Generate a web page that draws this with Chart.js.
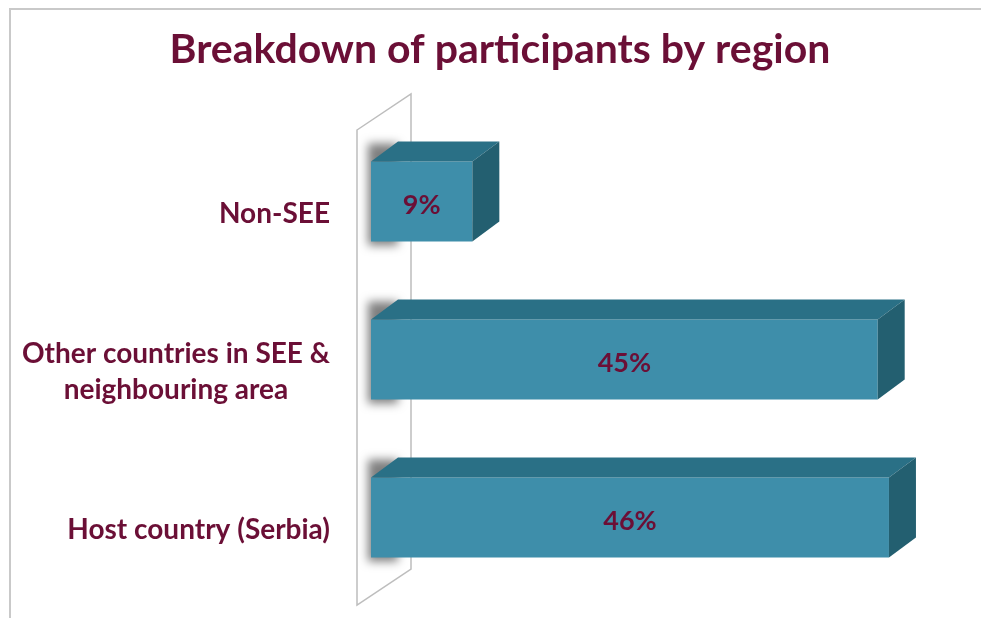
<!DOCTYPE html>
<html>
<head>
<meta charset="utf-8">
<script src="https://cdn.jsdelivr.net/npm/chart.js@4.4.0/dist/chart.umd.min.js"></script>
<style>
    html, body { margin: 0; padding: 0; background: #fff; }
</style>
</head>
<body>
<canvas id="chart" width="981" height="618"></canvas>
<script>
const regions = ['Non-SEE', ['Other countries in SEE &', 'neighbouring area'], 'Host country (Serbia)'];
const shares = [9, 45, 46];
const axisMax = 50;
const chartTitle = 'Breakdown of participants by region';

const maroon = '#6B0F36';
const front = '#3E8EAA';
const topFace = '#2A7086';
const sideFace = '#235F70';
const depth = { x: 27, y: -20 };

const bars3d = {
    id: 'bars3d',
    beforeDraw(chart) {
        const ctx = chart.ctx;
        ctx.save();
        ctx.strokeStyle = '#c9c9c9';
        ctx.lineWidth = 2;
        ctx.beginPath();
        ctx.moveTo(10, 618);
        ctx.lineTo(10, 9);
        ctx.lineTo(981, 9);
        ctx.stroke();

        // title, centred on the whole picture
        ctx.fillStyle = maroon;
        ctx.font = 'bold 41px Lato';
        ctx.textAlign = 'center';
        ctx.textBaseline = 'middle';
        ctx.fillText(chartTitle, 500, 50);
        ctx.restore();
    },
    beforeDatasetsDraw(chart) {
        const ctx = chart.ctx;
        const a = chart.chartArea;
        const fx = a.left - 14, ft = a.top + 7.5, fb = a.bottom + 8.5;
        const wall = () => {
            ctx.beginPath();
            ctx.moveTo(fx, ft);
            ctx.lineTo(fx + 54, ft - 36);
            ctx.lineTo(fx + 54, fb - 36);
            ctx.lineTo(fx, fb);
            ctx.closePath();
        };
        ctx.save();
        wall();
        ctx.fillStyle = '#fff';
        ctx.fill();
        // soft shadow of each bar on the wall
        ctx.save();
        wall();
        ctx.clip();
        ctx.shadowColor = 'rgba(0,0,0,0.5)';
        ctx.shadowBlur = 10;
        ctx.shadowOffsetX = 2000;
        ctx.fillStyle = '#000';
        chart.getDatasetMeta(0).data.forEach(bar => {
            const p = bar.getProps(['y', 'base', 'height'], true);
            ctx.fillRect(p.base - 2000 - 3, p.y - p.height / 2 - 18, 30, p.height + 22);
        });
        ctx.restore();
        wall();
        ctx.strokeStyle = '#bdbdbd';
        ctx.lineWidth = 1.5;
        ctx.stroke();
        ctx.restore();
    },
    afterDatasetsDraw(chart) {
        const ctx = chart.ctx;
        const yScale = chart.scales.y;
        ctx.save();
        chart.getDatasetMeta(0).data.forEach((bar, i) => {
            const p = bar.getProps(['x', 'y', 'base', 'height'], true);
            const t = p.y - p.height / 2, b = p.y + p.height / 2;
            ctx.fillStyle = topFace;
            ctx.beginPath();
            ctx.moveTo(p.base, t);
            ctx.lineTo(p.x, t);
            ctx.lineTo(p.x + depth.x, t + depth.y);
            ctx.lineTo(p.base + depth.x, t + depth.y);
            ctx.closePath();
            ctx.fill();
            ctx.fillStyle = sideFace;
            ctx.beginPath();
            ctx.moveTo(p.x, t);
            ctx.lineTo(p.x + depth.x, t + depth.y);
            ctx.lineTo(p.x + depth.x, b + depth.y);
            ctx.lineTo(p.x, b);
            ctx.closePath();
            ctx.fill();

            // value label
            ctx.fillStyle = maroon;
            ctx.font = 'bold 27px Lato';
            ctx.textAlign = 'center';
            ctx.textBaseline = 'middle';
            ctx.fillText(shares[i] + '%', (p.x + p.base) / 2, p.y + 4);
        });

        // category labels: block right aligned, lines centred
        ctx.font = 'bold 28px Lato';
        ctx.fillStyle = maroon;
        ctx.textAlign = 'center';
        ctx.textBaseline = 'middle';
        regions.forEach((lab, i) => {
            const lines = Array.isArray(lab) ? lab : [lab];
            const w = Math.max(...lines.map(l => ctx.measureText(l).width));
            const cx = 330 - w / 2;
            const cy = yScale.getPixelForValue(i) + 12;
            const lh = 36;
            lines.forEach((l, k) => {
                ctx.fillText(l, cx, cy + (k - (lines.length - 1) / 2) * lh);
            });
        });
        ctx.restore();
    }
};

const ctx = document.getElementById('chart').getContext('2d');
const chart = new Chart(ctx, {
    type: 'bar',
    data: {
        labels: regions,
        datasets: [{
            data: shares,
            backgroundColor: front,
            borderWidth: 0,
            categoryPercentage: 1,
            barPercentage: 0.506,
        }]
    },
    options: {
        indexAxis: 'y',
        responsive: false,
        animation: false,
        layout: {
            padding: { left: 371, right: 47, top: 122.5, bottom: 21.5 }
        },
        scales: {
            x: { display: false, min: 0, max: axisMax },
            y: { display: false }
        },
        plugins: {
            legend: { display: false },
            tooltip: { enabled: false },
            title: { display: false }
        }
    },
    plugins: [bars3d]
});
</script>
</body>
</html>
